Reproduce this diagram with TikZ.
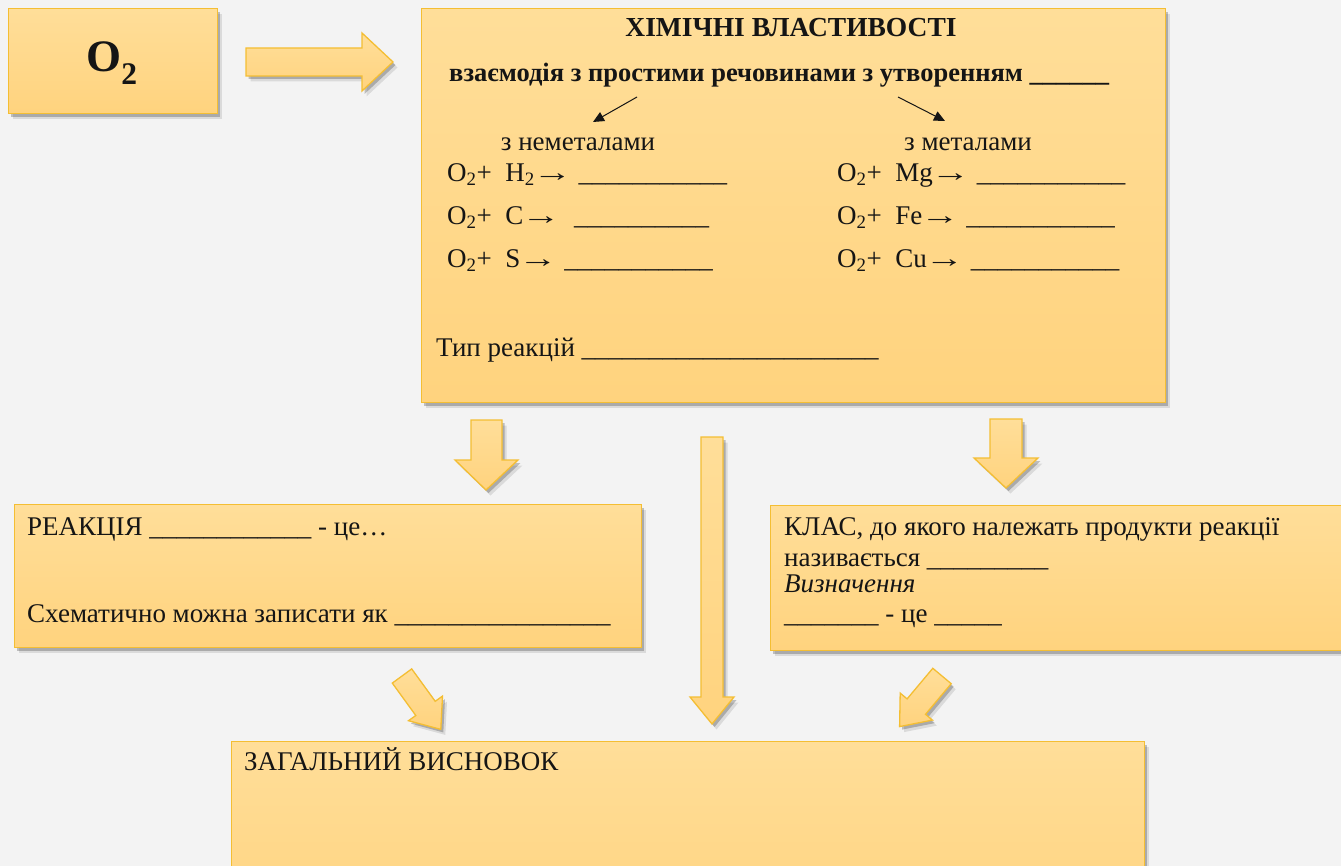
\documentclass[tikz,border=0pt]{standalone}
\usepackage{fontspec}
\usepackage{graphicx}
\setmainfont{Liberation Serif}
\usetikzlibrary{arrows.meta,shadows}
\definecolor{bg}{HTML}{F3F3F3}
\definecolor{boxtop}{HTML}{FFDE99}
\definecolor{boxbot}{HTML}{FFD37E}
\definecolor{gold}{HTML}{F4BE33}
\definecolor{ink}{HTML}{151515}
\tikzset{
  softshadow/.style={drop shadow={shadow xshift=4.5pt,shadow yshift=-5.5pt,opacity=.10,fill=black},
                     drop shadow={shadow xshift=2.5pt,shadow yshift=-3pt,opacity=.22,fill=black}},
  box/.style={softshadow,draw=gold,line width=1.3pt,top color=boxtop,bottom color=boxbot,
              inner sep=0pt,anchor=north west},
  barrow/.style={softshadow,draw=gold,line width=1.3pt,top color=boxtop,bottom color=boxbot,line join=miter},
  txt/.style={font=\fontsize{27}{31}\selectfont,text=ink,inner sep=0pt,anchor=base west},
  txtc/.style={txt,anchor=base},
  ttl/.style={font=\fontsize{27.5}{31}\selectfont\bfseries,text=ink,inner sep=0pt,anchor=base},
  subt/.style={font=\fontsize{26.5}{30}\selectfont\bfseries,text=ink,inner sep=0pt,anchor=base west},
  thin/.style={-{Triangle[length=11pt,width=10pt]},line width=1pt,draw=ink}
}
\newcommand{\us}[1]{\foreach \i in {1,...,#1}{\_}}
\newcommand{\ra}{\kern-2pt\scalebox{1.45}[1]{→}}
\begin{document}
\begin{tikzpicture}[x=1pt,y=-1pt]
\useasboundingbox (0,0) rectangle (1341,866);
\clip (0,0) rectangle (1341,866);
\fill[bg] (0,0) rectangle (1341,866);

% boxes
\node[box,minimum width=209pt,minimum height=105pt] (obox) at (8,8) {};
\node[font=\fontsize{45}{48}\selectfont\bfseries,text=ink,inner sep=0pt,anchor=base] (o2) at (112,72) {O\textsubscript{2}};
\node[box,minimum width=744pt,minimum height=394pt] (main) at (421,8) {};
\node[box,minimum width=627pt,minimum height=143pt] (lbox) at (14,504) {};
\node[box,minimum width=620pt,minimum height=145pt] (rbox) at (770,505) {};
\node[box,minimum width=913pt,minimum height=200pt] (bbox) at (231,741) {};

% block arrows
\path[barrow] (246,48) -- (362,48) -- (362,33) -- (393,62) -- (362,91) -- (362,76) -- (246,76) -- cycle;
\path[barrow] (471,420) -- (502,420) -- (502,460) -- (518,460) -- (486,490) -- (455,460) -- (471,460) -- cycle;
\path[barrow] (701,437) -- (723,437) -- (723,697) -- (734,697) -- (712,724) -- (690,697) -- (701,697) -- cycle;
\path[barrow] (990,419) -- (1022,419) -- (1022,458) -- (1038,458) -- (1006,488) -- (974,458) -- (990,458) -- cycle;
\path[barrow] (411.7,668.9) -- (435.2,701.3) -- (442.5,696.1) -- (440.8,729.4) -- (408.5,720.7) -- (415.8,715.5) -- (392.3,683.1) -- cycle;
\path[barrow] (951.2,683.7) -- (925.5,714.3) -- (932.4,720.1) -- (899.6,726.6) -- (900.2,693.1) -- (907.1,698.9) -- (932.8,668.3) -- cycle;

% main box text
\node[ttl] (title) at (791,37) {ХІМІЧНІ ВЛАСТИВОСТІ};
\node[subt] (sub) at (449,82) {взаємодія з простими речовинами з утворенням \us{6}};
\coordinate (a1s) at (637,97); \coordinate (a1e) at (593,122);
\coordinate (a2s) at (898,97); \coordinate (a2e) at (945,121);
\draw[thin] (a1s) -- (a1e);
\draw[thin] (a2s) -- (a2e);
\node[txtc] (nonmet) at (578,151) {з неметалами};
\node[txtc] (met) at (968,151) {з металами};
\node[txt] (e1) at (447,182) {O\textsubscript{2}+\ \ H\textsubscript{2}\ra\ \us{11}};
\node[txt] (e2) at (447,225) {O\textsubscript{2}+\ \ C\ra\ \ \us{10}};
\node[txt] (e3) at (447,268) {O\textsubscript{2}+\ \ S\ra\ \us{11}};
\node[txt] (e4) at (837,182) {O\textsubscript{2}+\ \ Mg\ra\ \us{11}};
\node[txt] (e5) at (837,225) {O\textsubscript{2}+\ \ Fe\ra\ \us{11}};
\node[txt] (e6) at (837,268) {O\textsubscript{2}+\ \ Cu\ra\ \us{11}};
\node[txt] (typ) at (436,357) {Тип реакцій \us{22}};

% left box
\node[txt] (l1) at (27,535) {РЕАКЦІЯ \us{12} - це…};
\node[txt] (l2) at (27,622) {Схематично можна записати як \us{16}};

% right box
\node[txt] (r1) at (784,535) {КЛАС, до якого належать продукти реакції};
\node[txt] (r2) at (784,566) {називається \us{9}};
\node[txt,font=\fontsize{27}{31}\selectfont\itshape] (r3) at (784,592) {Визначення};
\node[txt] (r4) at (784,622) {\us{7} - це \us{5}};

% bottom box
\node[txt] (b1) at (244,770) {ЗАГАЛЬНИЙ ВИСНОВОК};
\end{tikzpicture}
\end{document}
